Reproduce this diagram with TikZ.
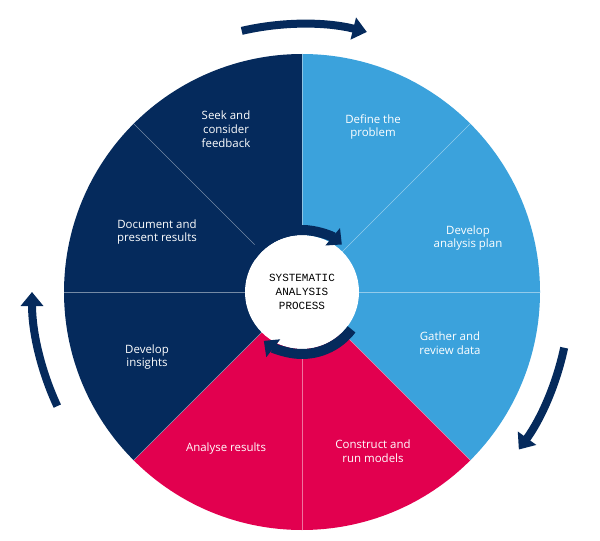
\documentclass[tikz,border=0pt]{standalone}
\usepackage{fontspec}
\setmainfont{Open Sans}
\setmonofont{Liberation Mono}
\usetikzlibrary{arrows.meta}
\definecolor{navy}{HTML}{052A5C}
\definecolor{skyblue}{HTML}{3BA2DC}
\definecolor{crimson}{HTML}{E2004F}
\tikzset{
  stage/.style={text=white,align=center,font=\fontsize{11.5}{14}\selectfont},
  flow/.style={navy,line width=8bp,-{Triangle[length=14bp,width=22bp]}},
  ring/.style={navy,line width=10bp,-{Triangle[length=12bp,width=22bp]}},
}
\begin{document}
\begin{tikzpicture}[x=1bp,y=-1bp]
\useasboundingbox (0,0) rectangle (600,541);
\coordinate (c) at (302,292);
%% sectors
\fill[skyblue] (c) -- ++(-90:238) arc[start angle=-90,end angle=45,radius=238] -- cycle;
\fill[crimson] (c) -- ++(45:238) arc[start angle=45,end angle=135,radius=238] -- cycle;
\fill[navy] (c) -- ++(135:238) arc[start angle=135,end angle=270,radius=238] -- cycle;
\foreach \a in {0,45,...,315}
  \draw[white,opacity=0.45,line width=0.6bp] (c) -- ++(\a:238);
%% hub
\fill[white] (c) circle[radius=57];
\draw[ring] (c) ++(-145:62) arc[start angle=-145,end angle=-50,radius=62];
\draw[ring] (c) ++(37:62) arc[start angle=37,end angle=128,radius=62];
\node[font=\ttfamily\fontsize{11}{14}\selectfont,align=center] (hub) at (c) {SYSTEMATIC\\ANALYSIS\\PROCESS};
%% stages
\node[stage] (define) at (373,127) {Define the\\problem};
\node[stage] (plan) at (468,238) {Develop\\analysis plan};
\node[stage] (gather) at (450,343) {Gather and\\review data};
\node[stage] (models) at (373,451) {Construct and\\run models};
\node[stage] (analyse) at (226,449) {Analyse results};
\node[stage] (insights) at (147,357) {Develop\\insights};
\node[stage] (document) at (157,232) {Document and\\present results};
\node[stage] (feedback) at (226,129) {Seek and\\consider\\feedback};
%% outer arrows
\draw[flow] (c) ++(-103:268) arc[start angle=-103,end angle=-76,radius=268];
\draw[flow] (c) ++(12:268) arc[start angle=12,end angle=36,radius=268];
\draw[flow] (c) ++(155:270) arc[start angle=155,end angle=180,radius=270];
\end{tikzpicture}
\end{document}
